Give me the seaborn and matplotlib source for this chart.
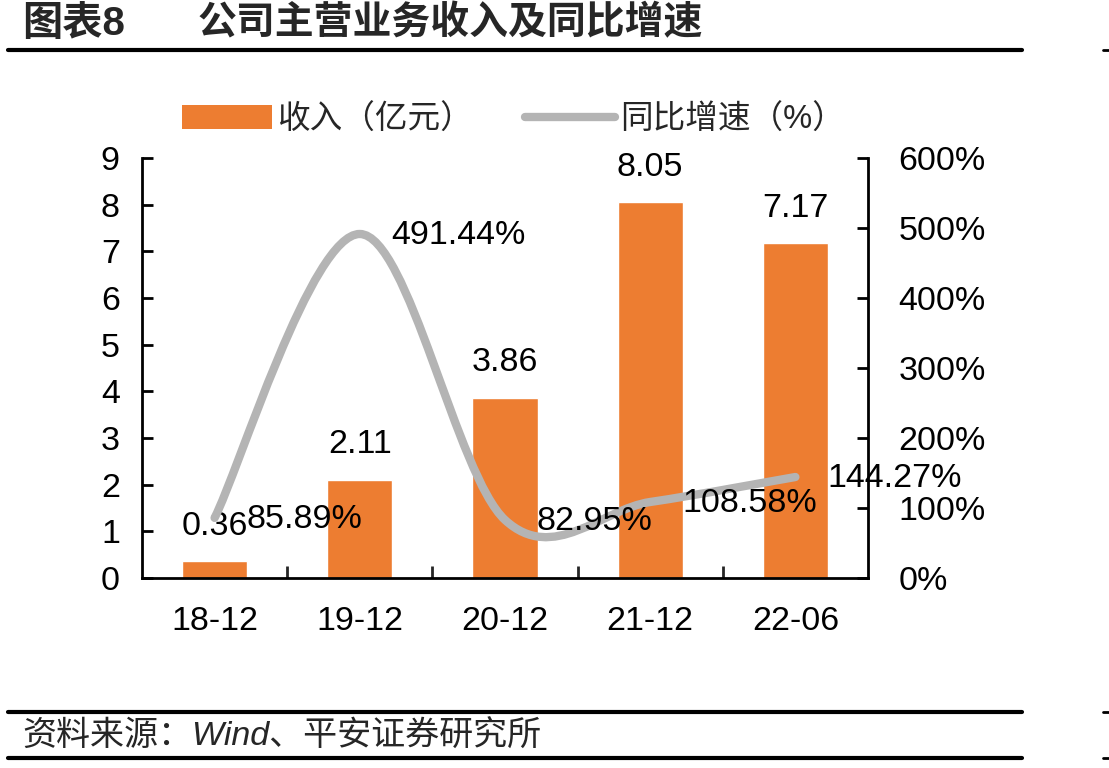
import numpy as np
import matplotlib
matplotlib.use('Agg')
import matplotlib.pyplot as plt
import seaborn as sns
from matplotlib.path import Path
from matplotlib.patches import PathPatch, Patch
from matplotlib.lines import Line2D
from matplotlib.ticker import FuncFormatter

# ---- data ----
categories = ['18-12', '19-12', '20-12', '21-12', '22-06']
revenue = [0.36, 2.11, 3.86, 8.05, 7.17]          # 收入（亿元）
growth = [85.89, 491.44, 82.95, 108.58, 144.27]   # 同比增速（%）
left_ticks = [0, 1, 2, 3, 4, 5, 6, 7, 8, 9]
right_ticks = [0, 100, 200, 300, 400, 500, 600]
legend_labels = ['收入（亿元）', '同比增速（%）']
title_left = '图表8'
title_right = '公司主营业务收入及同比增速'
source_text = '资料来源：Wind、平安证券研究所'

ORANGE = '#ED7D31'
GRAY = '#B4B4B4'

sns.set_theme(style='white')
plt.rcParams['font.family'] = ['Liberation Sans', 'Noto Sans CJK SC', 'DejaVu Sans']


def smooth_path(xs, ys):
    """Excel-like smoothed line: cubic Bezier through the data points."""
    pts = np.column_stack([xs, ys]).astype(float)
    n = len(pts)
    verts = [pts[0]]
    codes = [Path.MOVETO]
    for i in range(n - 1):
        p0 = pts[i - 1] if i > 0 else pts[i]
        p1 = pts[i]
        p2 = pts[i + 1]
        p3 = pts[i + 2] if i + 2 < n else pts[i + 1]
        c1 = p1 + (p2 - p0) / 6.0
        c2 = p2 - (p3 - p1) / 6.0
        verts += [c1, c2, p2]
        codes += [Path.CURVE4] * 3
    return Path(verts, codes)


fig = plt.figure(figsize=(11.09, 7.68), dpi=100)
ax = fig.add_axes([142 / 1109, 1 - 578 / 768, (868 - 142) / 1109, (578 - 158) / 768])

sns.barplot(x=categories, y=revenue, color=ORANGE, saturation=1, width=0.45, ax=ax)
ax.set_xlim(-0.5, len(categories) - 0.5)
ax.set_ylim(left_ticks[0], left_ticks[-1])
ax.set_yticks(left_ticks)
ax.set_xlabel('')
ax.set_ylabel('')

FS = 24.5
ax.tick_params(axis='y', direction='in', length=8, width=2, labelsize=FS, pad=16, colors='black', left=True)
ax.tick_params(axis='x', which='major', length=0, labelsize=FS, pad=20, colors='black')
ax.set_xticks([i + 0.5 for i in range(len(categories) - 1)], minor=True)
ax.tick_params(axis='x', which='minor', direction='in', length=9, width=2, bottom=True)
for s in ['top', 'right']:
    ax.spines[s].set_visible(False)
for s in ['left', 'bottom']:
    ax.spines[s].set_color('black')
    ax.spines[s].set_linewidth(2)

for i, v in enumerate(revenue):
    ax.annotate(f'{v:.2f}', (i, v), xytext=(0, 14), textcoords='offset points',
                ha='center', va='bottom', fontsize=FS, color='black')

ax2 = ax.twinx()
ax2.set_ylim(right_ticks[0], right_ticks[-1])
ax2.set_yticks(right_ticks)
ax2.yaxis.set_major_formatter(FuncFormatter(lambda v, p: f'{v:.0f}%'))
ax2.tick_params(axis='y', direction='in', length=8, width=2, labelsize=FS, pad=22, colors='black', right=True)
for s in ['top', 'left', 'bottom']:
    ax2.spines[s].set_visible(False)
ax2.spines['right'].set_color('black')
ax2.spines['right'].set_linewidth(2)
ax2.grid(False)
ax.grid(False)

path = smooth_path(np.arange(len(growth)), growth)
ax2.add_patch(PathPatch(path, fill=False, edgecolor=GRAY, lw=6, capstyle='round', joinstyle='round', zorder=3))
for i, g in enumerate(growth):
    ax2.annotate(f'{g:.2f}%', (i, g), xytext=(23, -1), textcoords='offset points',
                 ha='left', va='center', fontsize=FS, color='black', annotation_clip=False, zorder=5)

handles = [Patch(facecolor=ORANGE, edgecolor='none'),
           Line2D([0], [0], color=GRAY, lw=6, solid_capstyle='round')]
fig.legend(handles, legend_labels, loc='center', bbox_to_anchor=(0.463, 1 - 120 / 768), ncol=2,
           frameon=False, fontsize=23.5, handlelength=2.75, handleheight=0.72,
           handletextpad=0.15, columnspacing=1.6)

# title
fig.text(22 / 1109, 1 - 24 / 768, title_left, fontsize=29, weight='bold', va='center', ha='left')
fig.text(198 / 1109, 1 - 24 / 768, title_right, fontsize=28, weight='bold', va='center', ha='left')

# decorative rules
for y in [50, 712, 758]:
    fig.add_artist(Line2D([8 / 1109, 1022 / 1109], [1 - y / 768, 1 - y / 768],
                          transform=fig.transFigure, color='black', lw=3))
    fig.add_artist(Line2D([1103 / 1109, 1109 / 1109], [1 - y / 768, 1 - y / 768],
                          transform=fig.transFigure, color='black', lw=2))

fig.text(22 / 1109, 1 - 737 / 768, source_text, fontsize=24.5, va='center', ha='left', style='italic')

fig.savefig('out.png', dpi=100)
